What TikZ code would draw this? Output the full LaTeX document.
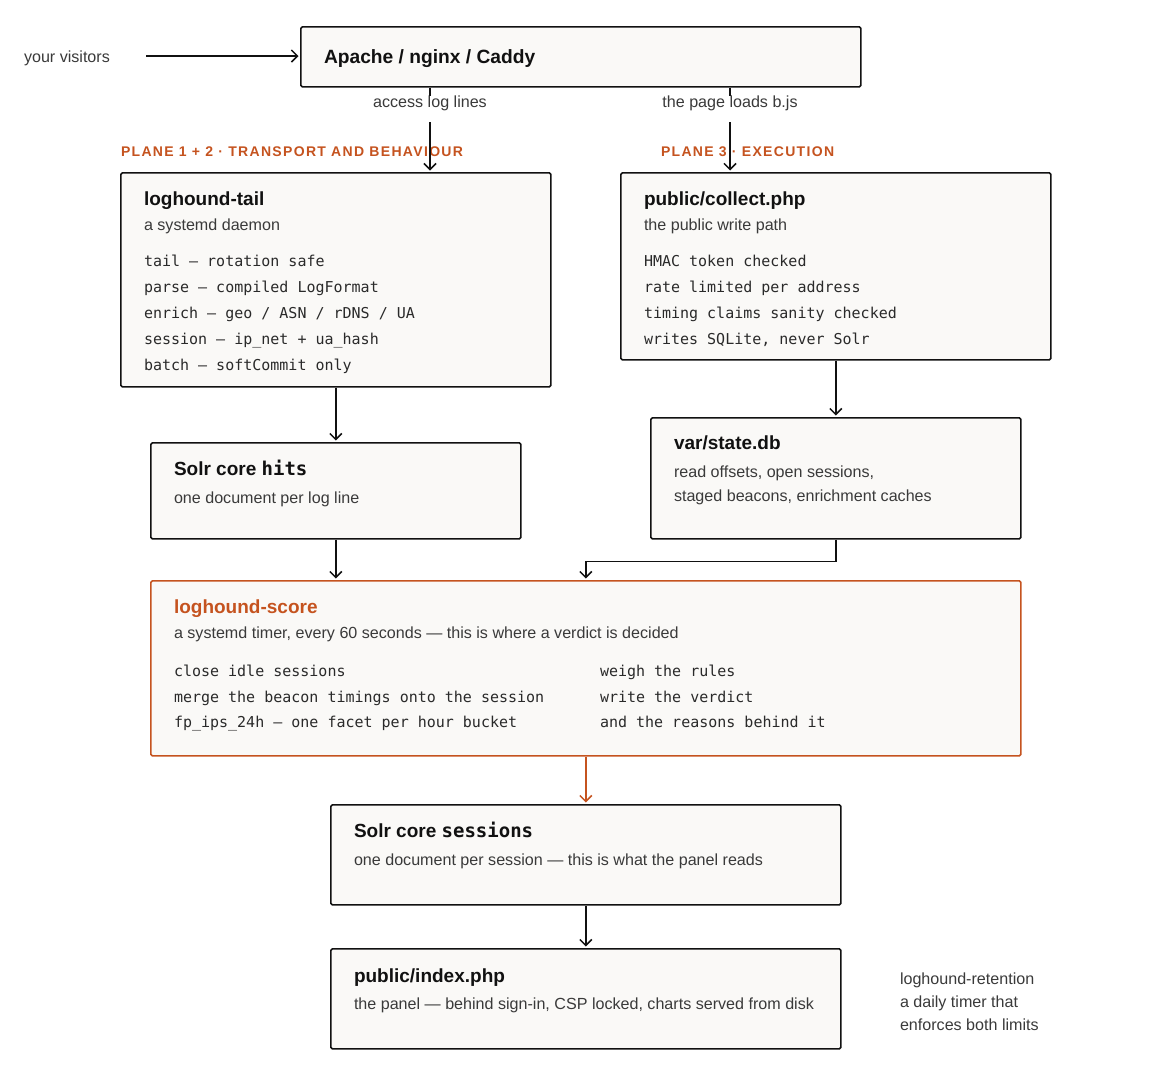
\documentclass[tikz,border=0pt]{standalone}
\usepackage{fontspec}
\setmainfont{Liberation Sans}
\newfontfamily\monof{DejaVu Sans Mono}
\newfontfamily\headf[LetterSpace=9.5]{Liberation Sans}
\usetikzlibrary{arrows.meta}
\definecolor{boxfill}{HTML}{FAF9F7}
\definecolor{ink}{HTML}{111111}
\definecolor{subgray}{HTML}{3A3A3A}
\definecolor{monogray}{HTML}{2A2A2A}
\definecolor{rust}{HTML}{C5531F}
\tikzset{
  box/.style={draw=ink, fill=boxfill, line width=1.7pt, rounded corners=1.5pt, anchor=north west, inner sep=0pt},
  hotbox/.style={box, draw=rust},
  txt/.style={anchor=base west, inner sep=0pt, outer sep=0pt},
  ttl/.style={txt, text=ink, font=\fontsize{19}{22}\selectfont\bfseries},
  big/.style={txt, text=ink, font=\fontsize{19.2}{23}\selectfont\bfseries},
  sub/.style={txt, text=subgray, font=\fontsize{16.1}{19}\selectfont},
  mono/.style={txt, text=monogray, font=\fontsize{15}{18}\selectfont\monof},
  head/.style={txt, text=rust, font=\fontsize{14}{17}\selectfont\headf\bfseries},
  lbl/.style={anchor=base, inner sep=0pt, text=subgray, font=\fontsize{16.1}{19}\selectfont, text height=10.5pt, text depth=15pt},
  arr/.style={line width=1.5pt, draw=ink, -{Straight Barb[length=6pt,width=12pt,line width=1.5pt]}, shorten >=1.5pt},
  hotarr/.style={arr, draw=rust},
  plain/.style={line width=1.5pt, draw=ink},
}
\begin{document}
\begin{tikzpicture}[x=1pt,y=-1pt]
\fill[white] (0,0) rectangle (1160,1080);
\useasboundingbox (0,0) rectangle (1160,1080);

% boxes
\node[box, minimum width=560, minimum height=60] (apache) at (300,26) {};
\node[box, minimum width=430, minimum height=214] (tail) at (120,172) {};
\node[box, minimum width=430, minimum height=187] (collect) at (620,172) {};
\node[box, minimum width=370, minimum height=96] (hits) at (150,442) {};
\node[box, minimum width=370, minimum height=121] (state) at (650,417) {};
\node[hotbox, minimum width=870, minimum height=175] (score) at (150,580) {};
\node[box, minimum width=510, minimum height=100] (sessions) at (330,804) {};
\node[box, minimum width=510, minimum height=100] (index) at (330,948) {};

% top
\node[sub] (vis) at (24,62) {your visitors};
\coordinate (visend) at (146,56);
\node[big] (apacheT) at (324,63) {Apache / nginx / Caddy};
\node[lbl] (lab1) at (430,107) {access log lines};
\node[lbl] (lab2) at (730,107) {the page loads b.js};
\node[head] (h1) at (121,156) {PLANE 1 + 2 · TRANSPORT AND BEHAVIOUR};
\node[head] (h2) at (661,156) {PLANE 3 · EXECUTION};

% loghound-tail
\node[ttl] (tailT) at (144,205.5) {loghound-tail};
\node[sub] (tailS) at (144,230) {a systemd daemon};
\node[mono] (tail1) at (144,266) {tail — rotation safe};
\node[mono] (tail2) at (144,292) {parse — compiled LogFormat};
\node[mono] (tail3) at (144,318) {enrich — geo / ASN / rDNS / UA};
\node[mono] (tail4) at (144,344) {session — ip\_net + ua\_hash};
\node[mono] (tail5) at (144,370) {batch — softCommit only};

% collect
\node[ttl] (colT) at (644,205.5) {public/collect.php};
\node[sub] (colS) at (644,230) {the public write path};
\node[mono] (col1) at (644,266) {HMAC token checked};
\node[mono] (col2) at (644,292) {rate limited per address};
\node[mono] (col3) at (644,318) {timing claims sanity checked};
\node[mono] (col4) at (644,344) {writes SQLite, never Solr};

% hits
\node[ttl] (hitsT) at (174,475) {Solr core {\monof hits}};
\node[sub] (hitsS) at (174,503) {one document per log line};

% state
\node[ttl] (stT) at (674,449) {var/state.db};
\node[sub] (st1) at (674,477) {read offsets, open sessions,};
\node[sub] (st2) at (674,501) {staged beacons, enrichment caches};

% score
\node[ttl, text=rust] (scT) at (174,613) {loghound-score};
\node[sub] (scS) at (174,638) {a systemd timer, every 60 seconds — this is where a verdict is decided};
\node[mono] (sc1) at (174,676) {close idle sessions};
\node[mono] (sc2) at (174,702) {merge the beacon timings onto the session};
\node[mono] (sc3) at (174,727) {fp\_ips\_24h — one facet per hour bucket};
\node[mono] (sc4) at (600,676) {weigh the rules};
\node[mono] (sc5) at (600,702) {write the verdict};
\node[mono] (sc6) at (600,727) {and the reasons behind it};

% sessions
\node[ttl] (seT) at (354,837) {Solr core {\monof sessions}};
\node[sub] (seS) at (354,865) {one document per session — this is what the panel reads};

% index
\node[ttl] (ixT) at (354,982) {public/index.php};
\node[sub] (ixS) at (354,1009) {the panel — behind sign-in, CSP locked, charts served from disk};

% retention
\node[sub] (re1) at (900,984) {loghound-retention};
\node[sub] (re2) at (900,1007) {a daily timer that};
\node[sub] (re3) at (900,1030) {enforces both limits};

% connectors
\draw[arr] (visend) -- (visend -| apache.west);
\draw[plain] (lab1.north |- apache.south) -- (lab1.north);
\draw[arr] (lab1.south) -- (lab1.south |- tail.north);
\draw[plain] (lab2.north |- apache.south) -- (lab2.north);
\draw[arr] (lab2.south) -- (lab2.south |- collect.north);
\draw[arr] (tail.south) -- (hits.north);
\draw[arr] (collect.south) -- (state.north);
\draw[arr] (hits.south) -- (hits.south |- score.north);
\draw[arr] (state.south) -- ++(0,22) -| (score.north);
\draw[hotarr] (score.south) -- (sessions.north);
\draw[arr] (sessions.south) -- (index.north);
\end{tikzpicture}
\end{document}
